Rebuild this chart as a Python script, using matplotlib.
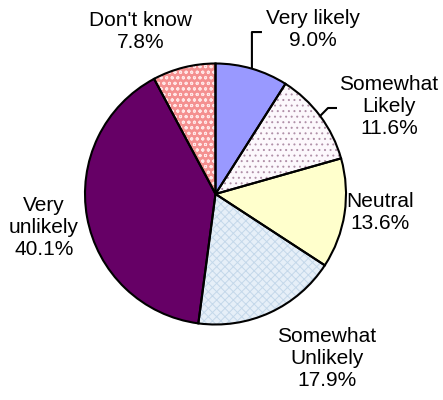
import numpy as np
import matplotlib
matplotlib.use("Agg")
import matplotlib.pyplot as plt
from matplotlib.patches import Wedge

categories = ["Very likely", "Somewhat\nLikely", "Neutral", "Somewhat\nUnlikely",
              "Very\nunlikely", "Don't know"]
shares = [9.0, 11.6, 13.6, 17.9, 40.1, 7.8]

face_colors = ["#9999FF", "#FCF8FC", "#FFFFCC", "#E6EFF8", "#660066", "#F49090"]
hatches = [None, "...", None, "xxxx", None, "ooo"]
hatch_colors = [None, "#B090A8", None, "#C4D8EA", None, "#FFE6E6"]

# label centres (pie radius units, pie centre at 0,0)
label_pos = [(0.747, 1.257), (1.330, 0.667), (1.261, -0.138),
             (0.854, -1.257), (-1.314, -0.253), (-0.571, 1.249)]
# leader line elbows for the labels that have one
leaders = {0: [(0.279, 1.241), (0.356, 1.241)],
           1: [(0.862, 0.659), (0.931, 0.659)]}

plt.rcParams['font.family'] = ['Liberation Sans', 'DejaVu Sans']
plt.rcParams['hatch.linewidth'] = 0.7

fig = plt.figure(figsize=(4.43, 4.0), dpi=100)
ax = fig.add_axes([0, 0, 1, 1])

wedges, _ = ax.pie(shares, startangle=90, counterclock=False, colors=face_colors,
                   wedgeprops=dict(linewidth=0))

for i, w in enumerate(wedges):
    if hatches[i]:
        ax.add_patch(Wedge(w.center, w.r, w.theta1, w.theta2, facecolor="none",
                           edgecolor=hatch_colors[i], linewidth=0, hatch=hatches[i]))
    ax.add_patch(Wedge(w.center, w.r, w.theta1, w.theta2, fill=False,
                       edgecolor="black", linewidth=1.5, zorder=5))

for i, w in enumerate(wedges):
    pct = f"{shares[i]:.1f}%"
    x, y = label_pos[i]
    ax.text(x, y, categories[i] + "\n" + pct, ha="center", va="center",
            multialignment="center", fontsize=15, linespacing=1.2)
    if i in leaders:
        mid = np.deg2rad((w.theta1 + w.theta2) / 2)
        pts = [(np.cos(mid), np.sin(mid))] + leaders[i]
        xs, ys = zip(*pts)
        ax.plot(xs, ys, color="black", linewidth=1.5, solid_capstyle="butt", zorder=6)

ax.set_aspect("auto")
ax.set_xlim(-215.5 / 130.5, 227.5 / 130.5)
ax.set_ylim(-206 / 130.5, 194 / 130.5)
ax.axis("off")

fig.savefig("out.png", dpi=100)
